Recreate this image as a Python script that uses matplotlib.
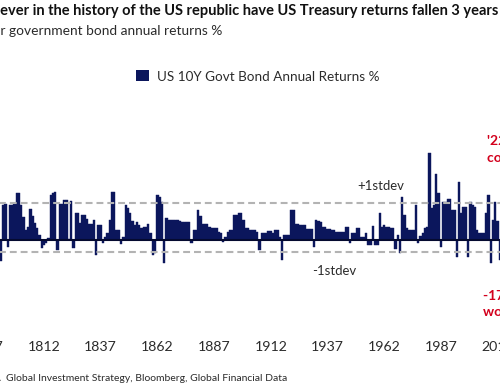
import matplotlib
matplotlib.use("Agg")
import matplotlib.pyplot as plt
import numpy as np

# ---------------- data ----------------
years = list(range(1793, 2014))
returns = [
    -8, 13, 13.5, -2.5, 13, 13, 14, 17.7, 17.7, 13,            # 1793-1802
    8.7, 3.7, 5, 11.5, 9, 6.5, 4.5, 2, -3, -2,                 # 1803-1812
    -1, 0.8, 16.8, 17.5, 18, -3.7, 13.7, 13.7, 15.2, 15,       # 1813-1822
    0.3, 14.7, -3, 10, 10, 6.5, 9.4, 9.4, 8, 6.2,              # 1823-1832
    6.2, 7.5, -5.6, 5.6, 5.6, -1, 1.2, 2.5, 7.7, 18,           # 1833-1842
    18, 3.7, 3.7, -1.5, 1, 13, 12, 10, 7, 5.6,                 # 1843-1852
    6.9, 5.5, 4.4, 5, 5, 6.2, 2.5, -5.6, -5, 16.8,             # 1853-1862
    16, 14.4, -8.5, 8.1, 7.5, 7.5, 7.5, 7.5, 7.5, 7,           # 1863-1872
    6.9, 6.9, 6.9, 6.9, -1, 3.7, 3.7, 11.2, 9, 6.2,            # 1873-1882
    6.2, 6.2, 5, 4.4, 4.4, 4.4, 3, 2.5, -0.6, 1,               # 1883-1892
    3.1, 3.7, 3.7, 9.4, 9.4, 10, 10, 7.5, 4.4, 4.4,            # 1893-1902
    3.7, 3.7, 3.7, 3, -3.7, 2.5, 2.5, 2.5, 3.5, 3.5,           # 1903-1912
    2.8, 3.7, 3.7, 1, -7.7, 1.9, 1.9, 1.9, 11.2, 11.2,         # 1913-1922
    6.2, 6.2, 5.6, 5.6, 5.6, 4, 4, 4, -2.5, 7.5,               # 1923-1932
    7, 6.9, 4.7, 4.7, 4, 4, 3.7, 3.7, 3.1, 3.1,                # 1933-1942
    3.1, 3.1, 4.7, 4.7, -1, 2.5, 2.5, 4.4, 4.4, 1.2,           # 1943-1952
    1.2, 2.7, -2, -2, 5.2, -2, -2, 10, 5, 5.6,                 # 1953-1962
    5, 5, 4.4, 4.4, -3.5, 2, -5, 16.2, 9.4, 4.4,               # 1963-1972
    3.7, 3.7, 3.7, 13, -1, 1.5, 2.5, 4.4, 5, 32.8,             # 1973-1982
    12, 13, 25, 17.5, -2.5, 14.4, 14.4, 15.6, 15.6, 11.2,      # 1983-1992
    11.2, -6.5, 21.9, 10, 12.5, 12.5, -6.5, 14.4, 13, 12.5,    # 1993-2002
    3.7, 2.5, 2.5, 2.5, 10, 16.9, -8.5, 7.5, 14.4, 7,          # 2003-2012
    -7.5,                                                      # 2013
]
plus_1std = 13.9
minus_1std = -4.5
tick_years = [1787, 1812, 1837, 1862, 1887, 1912, 1937, 1962, 1987, 2012]

title = "Never in the history of the US republic have US Treasury returns fallen 3 years in a row"
title_vis = "ever in the history of the US republic have US Treasury returns fallen 3 years"
subtitle = "US 10-year government bond annual returns %"
legend_label = "US 10Y Govt Bond Annual Returns %"
source = "Source: BofA  Global Investment Strategy, Bloomberg, Global Financial Data"
source_vis = "Global Investment Strategy, Bloomberg, Global Financial Data"
red_top = ["'22 & '23", "consecutive losses"]
red_bot = ["-17% in '22", "worst year ever"]

# ---------------- style ----------------
NAVY = "#0b165c"
GREY_TXT = "#2b2b2b"
RED = "#d3001c"
REG = ["Lato", "DejaVu Sans"]
BOLD = ["Liberation Sans Narrow", "Lato", "DejaVu Sans"]

W, H = 500, 383
fig = plt.figure(figsize=(W / 100, H / 100), dpi=100)
renderer = fig.canvas.get_renderer()


def px(x, y):
    return x / W, 1 - y / H


def text_width(s, size, family, weight="normal"):
    t = fig.text(0, 0, s, fontsize=size, family=family, fontweight=weight)
    w = t.get_window_extent(renderer=renderer).width
    t.remove()
    return w


def fit(s, target, family, weight="normal"):
    return 10 * target / text_width(s, 10, family, weight)


# axes: extends beyond figure edges (reference is a crop)
x0_year, x1_year = 1786, 2024
ppy = 2.268  # pixels per year
ax_left = 44 - (1812 - x0_year) * ppy
ax_w = (x1_year - x0_year) * ppy
ax_bottom = 48
ax_h = H - ax_bottom
ppv = 2.66  # pixels per percentage point
zero_from_bottom = H - 240
ax = fig.add_axes([ax_left / W, ax_bottom / H, ax_w / W, ax_h / H])
ax.set_xlim(x0_year, x1_year)
ylo = -(zero_from_bottom - ax_bottom) / ppv
ax.set_ylim(ylo, ylo + ax_h / ppv)

ax.bar(years, returns, width=1.0, color=NAVY, edgecolor=NAVY, linewidth=0.3, zorder=2)
ax.axhline(0, color="#050a30", lw=1.5, zorder=3)
for v in (plus_1std, minus_1std):
    ax.axhline(v, color="#b3b3b3", lw=1.5, ls=(0, (3.3, 1.9)), zorder=4)

ax.set_xticks(tick_years)
ax.set_xticklabels([str(y) for y in tick_years])
ax.tick_params(axis="x", length=0, pad=4, labelsize=10.2, colors=GREY_TXT)
for lbl in ax.get_xticklabels():
    lbl.set_family(REG)
ax.set_yticks([])
for s in ax.spines.values():
    s.set_visible(False)
ax.patch.set_alpha(0)

# title (cropped on the left)
ts = fit(title_vis, 499, BOLD, "bold")
full_w = text_width(title[: len(title_vis) + 1], ts, BOLD, "bold")
vis_w = text_width(title_vis, ts, BOLD, "bold")
fig.text(*px(-(full_w - vis_w) + 0.5, 15.5), title, fontsize=ts, family=BOLD,
         fontweight="bold", color="#111111", va="baseline", ha="left")

# subtitle (cropped, right end at x=222)
ss = fit("r government bond annual returns %", 222, REG)
fig.text(*px(222, 35), subtitle, fontsize=ss, family=REG, color=GREY_TXT,
         va="baseline", ha="right")

# legend
fig.patches.append(plt.Rectangle(px(136, 81), 13 / W, 11 / H, transform=fig.transFigure,
                                 facecolor=NAVY, edgecolor="none"))
ls = fit(legend_label, 221, REG)
fig.text(*px(157, 81), legend_label, fontsize=ls, family=REG, color=GREY_TXT,
         va="baseline", ha="left")

# stdev labels
sds = fit("+1stdev", 47, REG)
fig.text(*px(357, 190), "+1stdev", fontsize=sds, family=REG, color=GREY_TXT, va="baseline")
fig.text(*px(312, 275), "-1stdev", fontsize=sds, family=REG, color=GREY_TXT, va="baseline")

# red annotations (cropped on the right)
fig.text(*px(487, 145), red_top[0], fontsize=10, family=BOLD, fontweight="bold", color=RED, va="baseline")
fig.text(*px(487, 162), red_top[1], fontsize=10, family=BOLD, fontweight="bold", color=RED, va="baseline")
fig.text(*px(483, 300), red_bot[0], fontsize=10, family=BOLD, fontweight="bold", color=RED, va="baseline")
fig.text(*px(483, 316), red_bot[1], fontsize=10, family=BOLD, fontweight="bold", color=RED, va="baseline")

# source
srs = fit(source_vis, 280, REG)
fig.text(*px(287, 381), source, fontsize=srs, family=REG, color=GREY_TXT,
         va="baseline", ha="right")

fig.savefig("out.png", dpi=100, facecolor="white")
